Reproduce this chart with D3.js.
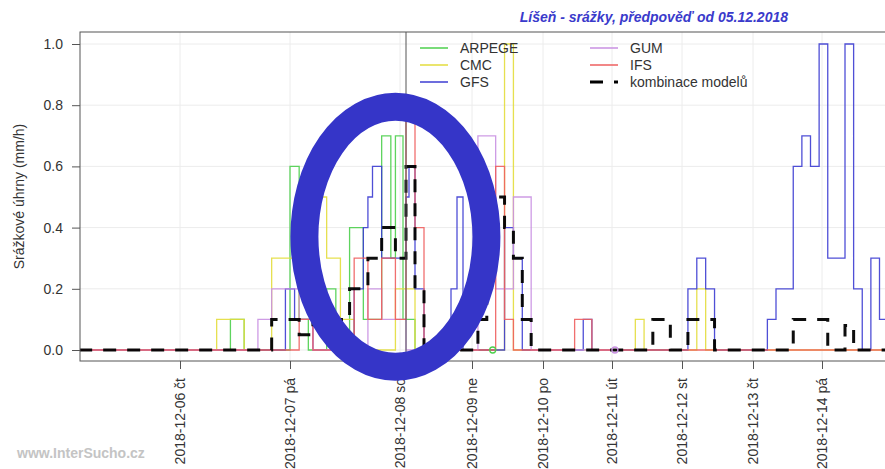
<!DOCTYPE html>
<html>
<head>
<meta charset="utf-8">
<script src="https://cdn.jsdelivr.net/npm/d3@7"></script>
<style>
  body { margin: 0; background: #fff; }
  svg { display: block; font-family: "Liberation Sans", Arial, sans-serif; }
</style>
</head>
<body>
<svg id="chart" width="885" height="469"></svg>
<script>
// ---- texts ----
const title = "Líšeň - srážky, předpověď od 05.12.2018";
const yLabel = "Srážkové úhrny (mm/h)";
const credit = "www.InterSucho.cz";

// ---- axis categories ----
const dayDates = ["06", "07", "08", "09", "10", "11", "12", "13", "14"];
const dayNames = ["čt", "pá", "so", "ne", "po", "út", "st", "čt", "pá"];
const yTicks = [0, 0.2, 0.4, 0.6, 0.8, 1.0];

// ---- series: [day hour, mm/h], each value holds until the next entry ----
const seriesNames = ["ARPEGE", "CMC", "GFS", "GUM", "IFS", "kombinace modelů"];
const seriesEnd = ["09 07", "15 00", "15 00", "11 01", "15 00", "15 00"];

const arpege = [["05 02", 0], ["06 11", 0.1], ["06 14", 0], ["07 00", 0.6], ["07 02", 0.1], ["07 04", 0],
  ["07 08", 0.2], ["07 10", 0], ["07 13", 0.4], ["07 16", 0.1], ["07 20", 0.7], ["07 22", 0.3],
  ["07 23", 0.7], ["08 01", 0.1], ["08 05", 0]];
const cmc = [["05 02", 0], ["06 08", 0.1], ["06 14", 0], ["06 20", 0.3], ["07 02", 0.1], ["07 05", 0.5],
  ["07 08", 0.3], ["07 11", 0.1], ["07 14", 0], ["07 23", 0.2], ["08 05", 0], ["09 11", 1.0],
  ["09 14", 0], ["11 08", 0.1], ["11 11", 0], ["12 05", 0.2], ["12 08", 0]];
const gfs = [["05 02", 0], ["06 23", 0.2], ["07 01", 0.1], ["07 05", 0], ["07 14", 0.2], ["07 16", 0.4],
  ["07 17", 0.5], ["07 18", 0.6], ["07 20", 0.3], ["08 02", 0.5], ["08 03", 0.6], ["08 05", 0.2],
  ["08 08", 0], ["08 17", 0.2], ["08 19", 0.5], ["08 21", 0], ["09 11", 0.4], ["09 14", 0.3],
  ["09 17", 0], ["10 14", 0.1], ["10 17", 0], ["12 02", 0.2], ["12 05", 0.3], ["12 08", 0.2],
  ["12 11", 0], ["13 05", 0.1], ["13 08", 0.2], ["13 14", 0.6], ["13 17", 0.7], ["13 20", 0.6],
  ["13 23", 1.0], ["14 02", 0.3], ["14 08", 1.0], ["14 11", 0.2], ["14 14", 0], ["14 17", 0.3],
  ["14 20", 0.1]];
const gum = [["05 02", 0], ["06 17", 0.1], ["06 20", 0.2], ["07 02", 0.1], ["07 05", 0], ["07 17", 0.2],
  ["07 20", 0.1], ["08 02", 0], ["09 02", 0.7], ["09 08", 0.2], ["09 14", 0.5], ["09 20", 0]];
const ifs = [["05 02", 0], ["07 02", 0.1], ["07 05", 0], ["07 14", 0.3], ["07 17", 0.1], ["07 20", 0.3],
  ["07 23", 0.1], ["08 02", 0.75], ["08 05", 0.4], ["08 08", 0], ["09 08", 0.6], ["09 11", 0.1],
  ["09 14", 0], ["10 11", 0.1], ["10 17", 0]];
const combined = [["05 02", 0], ["06 20", 0.1], ["07 02", 0.05], ["07 05", 0.1], ["07 13", 0.2],
  ["07 17", 0.3], ["07 20", 0.4], ["07 23", 0.3], ["08 02", 0.6], ["08 05", 0.2], ["08 08", 0],
  ["09 02", 0.1], ["09 05", 0.3], ["09 08", 0.5], ["09 11", 0.4], ["09 14", 0.3], ["09 17", 0.1],
  ["09 20", 0], ["11 14", 0.1], ["11 20", 0], ["12 02", 0.1], ["12 11", 0], ["13 14", 0.1],
  ["14 02", 0], ["14 08", 0.08], ["14 11", 0]];

// time at which the vertical divider is drawn
const dividerTime = "08 02";
// highlighted area (centre time and value)
const highlightCentre = ["07 23", 0.37];

// ---- layout ----
const plot = { left: 80, top: 32, right: 893, bottom: 361 };
const dayX = [180, 290, 400, 472, 543, 612, 682, 753, 822];   // uneven day spacing of the time axis
const colors = ["#4ccf4c", "#e3dd3c", "#3c3cd2", "#c990e2", "#ee5f5f", "#000000"];

const parseT = s => {
  const [d, h] = s.split(" ").map(Number);
  return new Date(2018, 11, d, h || 0);
};

const svg = d3.select("#chart");

const x = d3.scaleTime()
  .domain(dayDates.map(d => parseT(d + " 00")))
  .range(dayX);
const y = d3.scaleLinear().domain([0, 1]).range([350, 44]);

// grid
const grid = svg.append("g").attr("stroke", "#ececec").attr("stroke-width", 1);
grid.selectAll(".gx").data(dayDates).join("line")
  .attr("x1", d => x(parseT(d + " 00"))).attr("x2", d => x(parseT(d + " 00")))
  .attr("y1", plot.top).attr("y2", plot.bottom);
grid.selectAll(".gy").data(yTicks).join("line")
  .attr("x1", plot.left).attr("x2", plot.right)
  .attr("y1", d => y(d)).attr("y2", d => y(d));

// clip
svg.append("clipPath").attr("id", "clip").append("rect")
  .attr("x", plot.left).attr("y", plot.top)
  .attr("width", plot.right - plot.left).attr("height", plot.bottom - plot.top);

const allSeries = [arpege, cmc, gfs, gum, ifs, combined];
const line = d3.line().x(d => x(d.t)).y(d => y(d.v)).curve(d3.curveStepAfter);

const series = allSeries.map((s, i) => {
  const pts = s.map(([t, v]) => ({ t: parseT(t), v }));
  pts.push({ t: parseT(seriesEnd[i]), v: pts[pts.length - 1].v });
  return pts;
});

const gLines = svg.append("g").attr("clip-path", "url(#clip)");
series.forEach((pts, i) => {
  const isComb = i === 5;
  gLines.append("path")
    .attr("d", line(pts))
    .attr("fill", "none")
    .attr("stroke", colors[i])
    .attr("stroke-width", isComb ? 3 : 1.3)
    .attr("stroke-dasharray", isComb ? "13,11" : null)
    .attr("stroke-opacity", isComb ? 0.95 : 0.9);
});

// end points of shorter model runs
[0, 3].forEach(i => {
  const last = series[i][series[i].length - 1];
  gLines.append("circle")
    .attr("cx", x(last.t)).attr("cy", y(last.v)).attr("r", 3)
    .attr("fill", "none").attr("stroke", colors[i]).attr("stroke-width", 1.3);
});

// divider
svg.append("line")
  .attr("x1", x(parseT(dividerTime))).attr("x2", x(parseT(dividerTime)))
  .attr("y1", plot.top).attr("y2", plot.bottom)
  .attr("stroke", "#555").attr("stroke-width", 1);

// box
svg.append("rect")
  .attr("x", plot.left).attr("y", plot.top)
  .attr("width", plot.right - plot.left).attr("height", plot.bottom - plot.top)
  .attr("fill", "none").attr("stroke", "#555").attr("stroke-width", 1);

// y axis
const yAxis = svg.append("g").attr("transform", `translate(${plot.left},0)`)
  .call(d3.axisLeft(y).tickValues(yTicks).tickFormat(d3.format(".1f")).tickSize(8).tickPadding(9));
yAxis.select(".domain").remove();
yAxis.selectAll("line").attr("stroke", "#555");
yAxis.selectAll("text").attr("font-size", 14).attr("fill", "#333")
  .attr("font-family", "Liberation Sans, Arial, sans-serif");

// x axis
const xAxis = svg.append("g").attr("transform", `translate(0,${plot.bottom})`)
  .call(d3.axisBottom(x).tickValues(dayDates.map(d => parseT(d + " 00")))
    .tickFormat((d, i) => `2018-12-${dayDates[i]} ${dayNames[i]}`).tickSize(8).tickPadding(9));
xAxis.select(".domain").remove();
xAxis.selectAll("line").attr("stroke", "#555");
xAxis.selectAll("text")
  .attr("font-size", 14).attr("fill", "#333")
  .attr("font-family", "Liberation Sans, Arial, sans-serif")
  .attr("text-anchor", "end")
  .attr("dy", "0.35em")
  .attr("transform", "rotate(-90)")
  .attr("x", -17).attr("y", 0);

// y label
svg.append("text")
  .attr("transform", `translate(24,${(plot.top + plot.bottom) / 2}) rotate(-90)`)
  .attr("text-anchor", "middle").attr("font-size", 14).attr("fill", "#333")
  .text(yLabel);

// title
svg.append("text")
  .attr("x", 788).attr("y", 22).attr("text-anchor", "end")
  .attr("font-size", 14).attr("font-weight", "bold").attr("font-style", "italic")
  .attr("fill", "#3a3acb").text(title);

// credit
svg.append("text")
  .attr("x", 17).attr("y", 458).attr("font-size", 14).attr("font-weight", "bold")
  .attr("fill", "#c4c4c4").text(credit);

// legend
const legend = svg.append("g");
seriesNames.forEach((name, i) => {
  const col = Math.floor(i / 3), row = i % 3;
  const lx = col === 0 ? 420 : 590;
  const ly = 48 + row * 17;
  const isComb = i === 5;
  legend.append("line")
    .attr("x1", lx).attr("x2", lx + 28).attr("y1", ly).attr("y2", ly)
    .attr("stroke", colors[i]).attr("stroke-width", isComb ? 3 : 1.5)
    .attr("stroke-dasharray", isComb ? "13,11" : null);
  legend.append("text")
    .attr("x", lx + 40).attr("y", ly + 5).attr("font-size", 14).attr("fill", "#333")
    .text(name);
});

// highlight ring
svg.append("ellipse")
  .attr("cx", x(parseT(highlightCentre[0]))).attr("cy", y(highlightCentre[1]))
  .attr("rx", 91).attr("ry", 130)
  .attr("fill", "none").attr("stroke", "#3535c8").attr("stroke-width", 28);
</script>
</body>
</html>
